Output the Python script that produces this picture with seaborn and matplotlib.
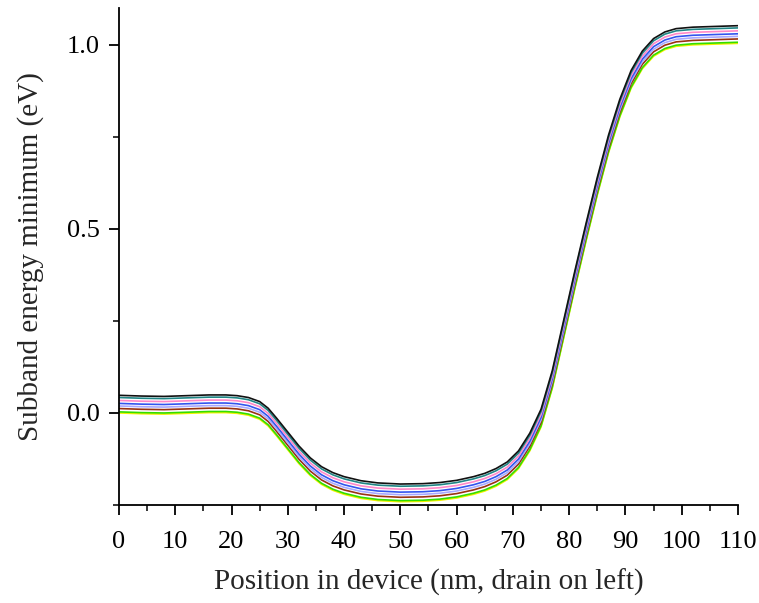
import matplotlib
matplotlib.use("Agg")
import matplotlib.pyplot as plt
from matplotlib.ticker import MultipleLocator, FormatStrFormatter
import pandas as pd
import seaborn as sns

# Position along the device (nm)
position = [0, 4, 8, 12, 16, 19, 21, 23, 25, 26.5, 28, 30, 32, 34, 36, 38, 40, 43, 46, 50,
            54, 57, 60, 63, 65, 67, 69, 71, 73, 75, 77, 79, 81, 83, 85, 87, 89, 91, 93, 95,
            97, 99, 102, 106, 110]

# Subband energy minimum (eV) for each bias point
e_black = [0.048, 0.046, 0.045, 0.047, 0.049, 0.049, 0.047, 0.042, 0.031, 0.013, -0.014, -0.052,
           -0.090, -0.122, -0.146, -0.162, -0.173, -0.184, -0.190, -0.193, -0.192, -0.189, -0.183,
           -0.173, -0.164, -0.151, -0.133, -0.103, -0.055, 0.010, 0.115, 0.250, 0.385, 0.515,
           0.640, 0.755, 0.852, 0.930, 0.983, 1.017, 1.035, 1.044, 1.048, 1.050, 1.052]
e_teal = [0.042, 0.040, 0.039, 0.041, 0.043, 0.043, 0.041, 0.036, 0.025, 0.007, -0.020, -0.058,
          -0.096, -0.128, -0.152, -0.168, -0.179, -0.190, -0.196, -0.199, -0.198, -0.195, -0.189,
          -0.179, -0.170, -0.157, -0.139, -0.109, -0.061, 0.004, 0.109, 0.244, 0.379, 0.509,
          0.634, 0.749, 0.846, 0.924, 0.977, 1.011, 1.029, 1.038, 1.042, 1.044, 1.046]
e_pink = [0.034, 0.032, 0.031, 0.033, 0.035, 0.035, 0.033, 0.028, 0.017, -0.001, -0.028, -0.066,
          -0.104, -0.136, -0.160, -0.176, -0.187, -0.198, -0.204, -0.207, -0.206, -0.203, -0.197,
          -0.187, -0.178, -0.165, -0.147, -0.117, -0.069, -0.004, 0.101, 0.236, 0.371, 0.501,
          0.626, 0.741, 0.838, 0.916, 0.969, 1.003, 1.021, 1.030, 1.034, 1.036, 1.038]
e_blue = [0.026, 0.024, 0.023, 0.025, 0.027, 0.027, 0.025, 0.020, 0.009, -0.009, -0.036, -0.074,
          -0.112, -0.144, -0.168, -0.184, -0.195, -0.206, -0.212, -0.215, -0.214, -0.211, -0.205,
          -0.195, -0.186, -0.173, -0.155, -0.125, -0.077, -0.012, 0.093, 0.228, 0.363, 0.493,
          0.618, 0.733, 0.830, 0.908, 0.961, 0.995, 1.013, 1.022, 1.026, 1.028, 1.030]
e_lavender = [0.019, 0.017, 0.016, 0.018, 0.020, 0.020, 0.018, 0.013, 0.002, -0.016, -0.043, -0.081,
              -0.119, -0.151, -0.175, -0.191, -0.202, -0.213, -0.219, -0.222, -0.221, -0.218, -0.212,
              -0.202, -0.193, -0.180, -0.162, -0.132, -0.084, -0.019, 0.086, 0.221, 0.356, 0.486,
              0.611, 0.726, 0.823, 0.901, 0.954, 0.988, 1.006, 1.015, 1.019, 1.021, 1.023]
e_brown = [0.012, 0.010, 0.009, 0.011, 0.013, 0.013, 0.011, 0.006, -0.005, -0.023, -0.050, -0.088,
           -0.126, -0.158, -0.182, -0.198, -0.209, -0.220, -0.226, -0.229, -0.228, -0.225, -0.219,
           -0.209, -0.200, -0.187, -0.169, -0.139, -0.091, -0.026, 0.079, 0.214, 0.349, 0.479,
           0.604, 0.719, 0.816, 0.894, 0.947, 0.981, 0.999, 1.008, 1.012, 1.014, 1.016]
e_green = [0.003, 0.001, 0.000, 0.002, 0.004, 0.004, 0.002, -0.003, -0.014, -0.032, -0.059, -0.097,
           -0.135, -0.167, -0.191, -0.207, -0.218, -0.229, -0.235, -0.238, -0.237, -0.234, -0.228,
           -0.218, -0.209, -0.196, -0.178, -0.148, -0.100, -0.035, 0.070, 0.205, 0.340, 0.470,
           0.595, 0.710, 0.807, 0.885, 0.938, 0.972, 0.990, 0.999, 1.003, 1.005, 1.007]
e_yellow = [0.000, -0.002, -0.003, -0.001, 0.001, 0.001, -0.001, -0.006, -0.017, -0.035, -0.062, -0.100,
            -0.138, -0.170, -0.194, -0.210, -0.221, -0.232, -0.238, -0.241, -0.240, -0.237, -0.231,
            -0.221, -0.212, -0.199, -0.181, -0.151, -0.103, -0.038, 0.067, 0.202, 0.337, 0.467,
            0.592, 0.707, 0.804, 0.882, 0.935, 0.969, 0.987, 0.996, 1.000, 1.002, 1.004]

series = {
    "yellow": e_yellow, "green": e_green, "brown": e_brown, "lavender": e_lavender,
    "blue": e_blue, "pink": e_pink, "teal": e_teal, "black": e_black,
}
colors = {
    "yellow": "#f2f200", "green": "#33dd00", "brown": "#993311", "lavender": "#a8a8ff",
    "blue": "#3355ee", "pink": "#ff88c8", "teal": "#208585", "black": "#111111",
}

rows = []
for name, vals in series.items():
    for x, y in zip(position, vals):
        rows.append({"pos": x, "energy": y, "curve": name})
df = pd.DataFrame(rows)

sns.set_style("ticks")
plt.rcParams["font.family"] = ["Liberation Serif", "DejaVu Serif"]

fig = plt.figure(figsize=(7.59, 6.03), dpi=100)
ax = fig.add_axes([0.1568, 0.1625, 0.8155, 0.8242])

sns.lineplot(data=df, x="pos", y="energy", hue="curve", hue_order=list(series.keys()),
             palette=colors, linewidth=1.2, legend=False, ax=ax, sort=False)

ax.set_xlim(0, 110)
ax.set_ylim(-0.25, 1.1)
ax.xaxis.set_major_locator(MultipleLocator(10))
ax.xaxis.set_minor_locator(MultipleLocator(5))
ax.yaxis.set_major_locator(MultipleLocator(0.5))
ax.yaxis.set_minor_locator(MultipleLocator(0.25))
ax.yaxis.set_major_formatter(FormatStrFormatter("%.1f"))

for s in ("top", "right"):
    ax.spines[s].set_visible(False)
for s in ("left", "bottom"):
    ax.spines[s].set_linewidth(1.3)
    ax.spines[s].set_color("black")

ax.tick_params(axis="both", which="major", direction="out", length=7, width=1.3,
               labelsize=19, colors="black", pad=7)
ax.tick_params(axis="x", which="major", pad=12)
ax.tick_params(axis="both", which="minor", direction="out", length=4, width=1.3)

ax.set_xlabel("Position in device (nm, drain on left)", fontsize=21, labelpad=11)
ax.set_ylabel("Subband energy minimum (eV)", fontsize=21, labelpad=16)

fig.savefig("out.png", dpi=100, facecolor="white")
